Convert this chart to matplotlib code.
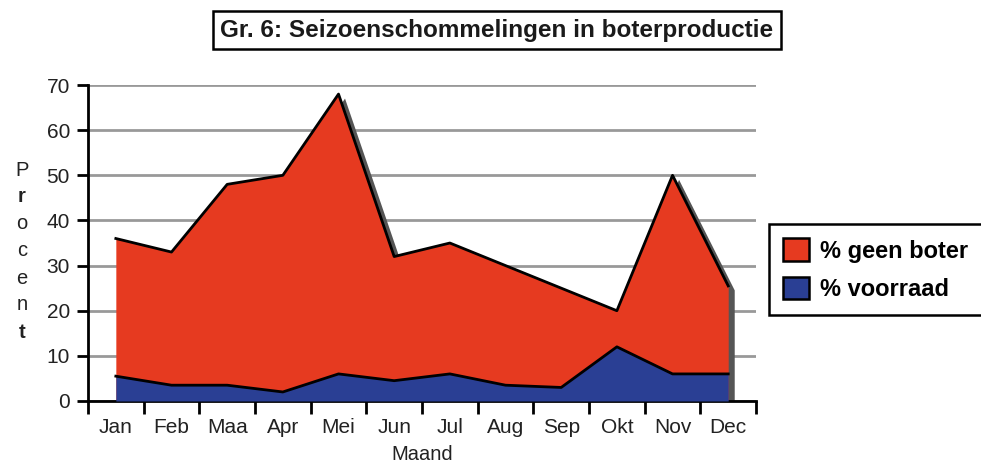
import matplotlib.pyplot as plt
import matplotlib.transforms as mtransforms
from matplotlib.patches import Patch
from matplotlib.lines import Line2D
import numpy as np

plt.rcParams['font.family'] = ['Liberation Sans', 'DejaVu Sans']

months = ['Jan', 'Feb', 'Maa', 'Apr', 'Mei', 'Jun', 'Jul', 'Aug', 'Sep', 'Okt', 'Nov', 'Dec']
# top of the stack (voorraad + geen boter)
totaal = [36, 33, 48, 50, 68, 32, 35, 30, 25, 20, 50, 25.5]
voorraad = [5.5, 3.5, 3.5, 2, 6, 4.5, 6, 3.5, 3, 12, 6, 6]

red = '#e63a20'
blue = '#2a3f94'

fig = plt.figure(figsize=(9.81, 4.66), dpi=100)
ax = fig.add_axes([0.0897, 0.1395, 0.681, 0.678])

x = np.arange(len(months))

# shadow of the whole area, offset right/down
shadow_tr = mtransforms.offset_copy(ax.transData, fig=fig, x=6, y=-4, units='dots')
ax.fill_between(x, 0, totaal, color='#555555', lw=0, transform=shadow_tr, zorder=1)

ax.fill_between(x, 0, totaal, color=red, lw=0, zorder=2)
ax.fill_between(x, 0, voorraad, color=blue, lw=0, zorder=3)
ax.plot(x, totaal, color='black', lw=2, zorder=4)
ax.plot(x, voorraad, color='black', lw=2, zorder=4)

ax.set_xlim(-0.5, 11.5)
ax.set_ylim(0, 70)
ax.set_yticks(range(0, 71, 10))
ax.yaxis.grid(True, color='#999999', lw=2)
ax.set_axisbelow(True)

ax.set_xticks(np.arange(-0.5, 12, 1))
ax.set_xticklabels([])
ax.set_xticks(x, minor=True)
ax.set_xticklabels(months, minor=True)
ax.tick_params(axis='x', which='major', length=9, width=2, direction='out')
ax.tick_params(axis='x', which='minor', length=0, pad=12, labelsize=15, labelcolor='#222222')
ax.tick_params(axis='y', length=8, width=2, pad=5, labelsize=15, labelcolor='#222222')

for s in ['top', 'right']:
    ax.spines[s].set_visible(False)
for s in ['left', 'bottom']:
    ax.spines[s].set_linewidth(2)
ax.set_xlabel('Maand', fontsize=14.5, labelpad=6, color='#222222')

# vertical stacked y label
letters = ['P', 'r', 'o', 'c', 'e', 'n', 't']
bold = [False, True, False, False, False, False, True]
for i, (ch, b) in enumerate(zip(letters, bold)):
    fig.text(22 / 981, 1 - (170 + i * 27) / 466, ch, ha='center', va='center',
             fontsize=14.5, fontweight='bold' if b else 'normal', color='#222222')

# title in a box, underlined
title = fig.text(497 / 981, 1 - 30 / 466, 'Gr. 6: Seizoenschommelingen in boterproductie',
                 ha='center', va='center', fontsize=17.5, fontweight='bold', color='#1a1a1a',
                 bbox=dict(boxstyle='square,pad=0.3', fc='white', ec='black', lw=1.8))
fig.canvas.draw()
bb = title.get_window_extent(renderer=fig.canvas.get_renderer())
uy = (bb.y0 + 1) / fig.bbox.height
fig.add_artist(Line2D([bb.x0 / fig.bbox.width, bb.x1 / fig.bbox.width], [uy, uy],
                      color='#1a1a1a', lw=1.5, transform=fig.transFigure))

handles = [Patch(facecolor=red, edgecolor='black', lw=1.8, label='% geen boter'),
           Patch(facecolor=blue, edgecolor='black', lw=1.8, label='% voorraad')]
leg = fig.legend(handles=handles, loc='upper left', bbox_to_anchor=(769 / 981, 1 - 224 / 466),
                 fancybox=False, edgecolor='black', framealpha=1, handlelength=1.1,
                 handleheight=1.1, handletextpad=0.45, borderpad=0.6, labelspacing=0.6,
                 borderaxespad=0, prop={'size': 17, 'weight': 'bold'})
leg.get_frame().set_linewidth(1.8)

fig.savefig('out.png', dpi=100)
